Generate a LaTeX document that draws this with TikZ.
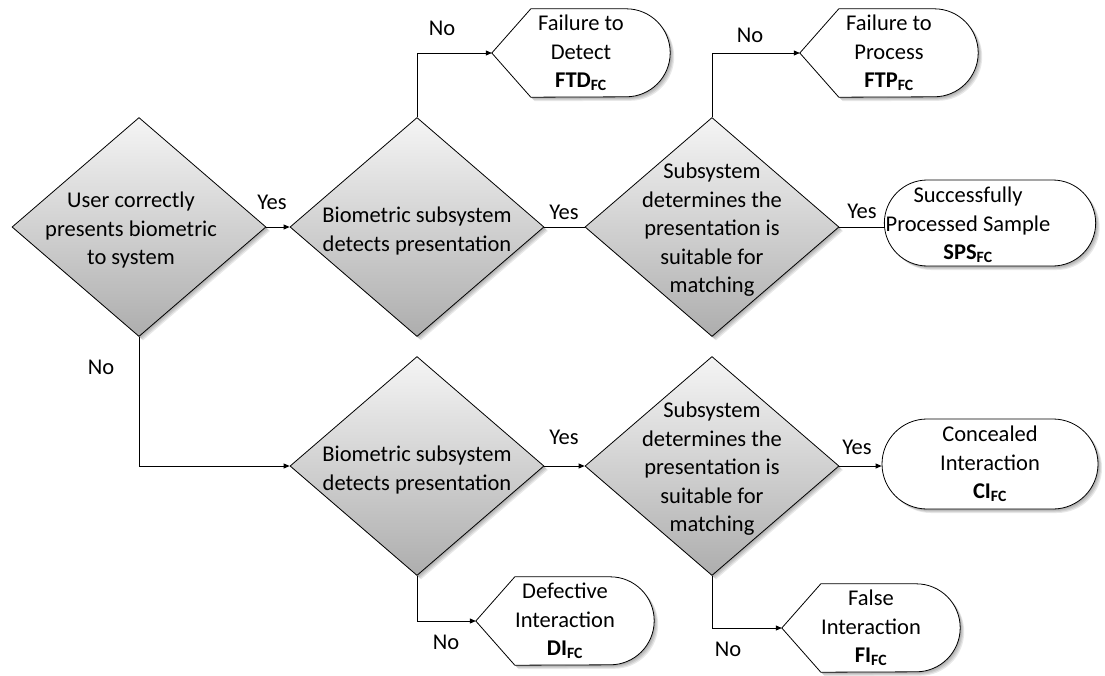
\documentclass[tikz,border=0pt]{standalone}
\usepackage{fontspec}
\setmainfont{Carlito}
\usetikzlibrary{shapes.geometric,shapes.misc,arrows.meta}
\pgfdeclarelayer{background}
\pgfsetlayers{background,main}

\tikzset{
  txt/.style={font=\fontsize{22.5}{28.5}\selectfont, align=center, inner sep=0pt},
  shadowstep/.style={preaction={fill=black, opacity=0.09,
      transform canvas={xshift=#1, yshift=-#1}}},
  softshadow/.style={shadowstep=1pt, shadowstep=2pt, shadowstep=3pt, shadowstep=4pt},
  decision/.style={diamond, draw=black, line width=0.8pt, inner sep=0pt,
      minimum width=254pt, minimum height=219pt, softshadow,
      top color=black!4, bottom color=black!32},
  stadium/.style={rounded rectangle, draw=black, line width=0.8pt, fill=white,
      minimum width=218pt, minimum height=86pt, softshadow},
  display/.style={txt, rectangle, minimum width=178pt, minimum height=88pt},
  displine/.style={draw=black, line width=0.8pt, fill=white, softshadow},
  conn/.style={draw=black, line width=0.8pt, -{Triangle[length=6pt,width=5pt]}},
  plain/.style={draw=black, line width=0.8pt},
}

% outline of a terminal that points left and is rounded on the right
\newcommand\displayoutline[1]{%
  \path[displine] (#1.west) -- ([xshift=39pt]#1.north west)
    -- ([xshift=-44pt]#1.north east)
    arc[start angle=90, end angle=-90, radius=44pt]
    -- ([xshift=39pt]#1.south west) -- cycle;}

\begin{document}
\begin{tikzpicture}[x=1pt, y=-1pt]
  \useasboundingbox (0,0) rectangle (1105,675);

  % decisions
  \node[decision] (d1) at (139,227) {};
  \node[decision] (d2) at (417,227) {};
  \node[decision] (d3) at (712,227) {};
  \node[decision] (d4) at (417,466) {};
  \node[decision] (d5) at (712,466) {};

  \node[txt] (t1) at (131,230) {User correctly\\presents biometric\\to system};
  \node[txt] (t2) at (417,231) {Biometric subsystem\\detects presentation};
  \node[txt] (t3) at (712,230) {Subsystem\\determines the\\presentation is\\suitable for\\matching};
  \node[txt] (t4) at (417,470) {Biometric subsystem\\detects presentation};
  \node[txt] (t5) at (712,469) {Subsystem\\determines the\\presentation is\\suitable for\\matching};

  % terminals
  \node[display] (ftd) at (581,53) {Failure to\\Detect\\\textbf{FTD\textsubscript{FC}}};
  \node[display] (ftp) at (889,53) {Failure to\\Process\\\textbf{FTP\textsubscript{FC}}};
  \node[display] (di)  at (565,621) {Defective\\Interaction\\\textbf{DI\textsubscript{FC}}};
  \node[display] (fi)  at (871,628) {False\\Interaction\\\textbf{FI\textsubscript{FC}}};
  \begin{pgfonlayer}{background}
    \displayoutline{ftd}
    \displayoutline{ftp}
    \displayoutline{di}
    \displayoutline{fi}
  \end{pgfonlayer}

  \node[stadium] (sps) at (990,223) {};
  \node[txt] (spst) at (968,225) {Successfully\\Processed Sample\\\textbf{SPS\textsubscript{FC}}};
  \node[stadium, txt, minimum width=216pt, minimum height=90pt] (ci) at (990,464)
       {Concealed\\Interaction\\\textbf{CI\textsubscript{FC}}};

  % connectors
  \draw[conn]  (d1.east) -- (d2.west);
  \draw[conn]  (d2.north) |- (ftd.west);
  \draw[plain] (d2.east) -- (d3.west);
  \draw[conn]  (d3.north) |- (ftp.west);
  \draw[plain] (d3.east) -- (d3.east -| sps.west);
  \draw[conn]  (d1.south) |- (d4.west);
  \draw[conn]  (d4.east) -- (d5.west);
  \draw[conn]  (d4.south) |- (di.west);
  \draw[conn]  (d5.east) -- (d5.east -| ci.west);
  \draw[conn]  (d5.south) |- (fi.west);

  % branch labels
  \node[txt] (l1)  at (272,202) {Yes};
  \node[txt] (l2)  at (442,28)  {No};
  \node[txt] (l3)  at (564,212) {Yes};
  \node[txt] (l4)  at (750,35)  {No};
  \node[txt] (l5)  at (862,211) {Yes};
  \node[txt] (l6)  at (101,367) {No};
  \node[txt] (l7)  at (564,437) {Yes};
  \node[txt] (l8)  at (446,642) {No};
  \node[txt] (l9)  at (857,447) {Yes};
  \node[txt] (l10) at (728,649) {No};
\end{tikzpicture}
\end{document}
